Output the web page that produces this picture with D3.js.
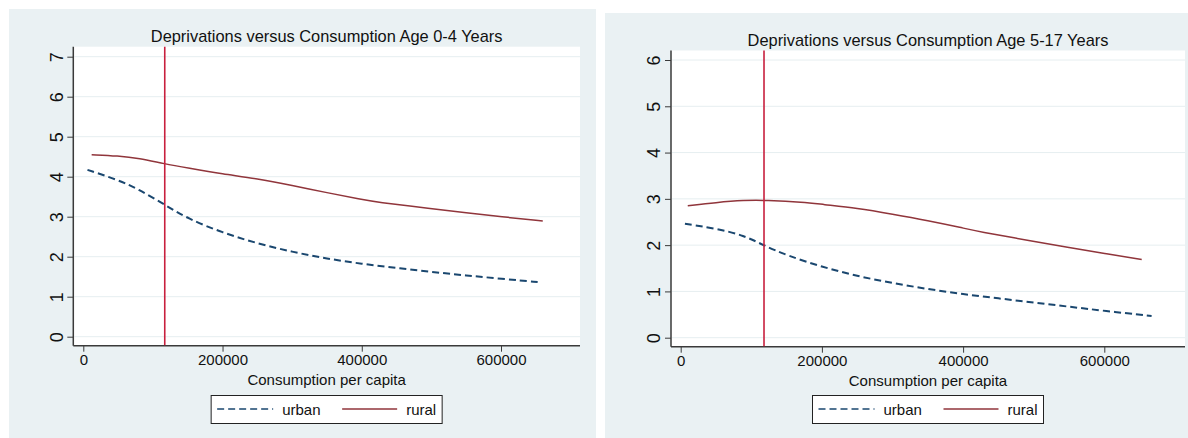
<!DOCTYPE html>
<html>
<head>
<meta charset="utf-8">
<script src="https://cdn.jsdelivr.net/npm/d3@7"></script>
<style>
  body { margin: 0; background: #fff; }
  svg { display: block; font-family: "Liberation Sans", Arial, sans-serif; }
</style>
</head>
<body>
<div id="chart"></div>
<script>
// Data
const titles = ["Deprivations versus Consumption Age 0-4 Years", "Deprivations versus Consumption Age 5-17 Years"];
const xTicks = [0, 200000, 400000, 600000];
const yTicksA = [0, 1, 2, 3, 4, 5, 6, 7];
const yTicksB = [0, 1, 2, 3, 4, 5, 6];
const cutoffA = 117000;
const cutoffB = 118000;

// age 0-4
const ruralA_x = [12000, 50000, 80000, 117000, 150000, 200000, 250000, 300000, 350000, 400000, 420000, 500000, 550000, 600000, 660000];
const ruralA_y = [4.55, 4.52, 4.46, 4.32, 4.22, 4.07, 3.95, 3.78, 3.60, 3.43, 3.37, 3.20, 3.10, 3.00, 2.89];
const urbanA_x = [6000, 50000, 80000, 117000, 150000, 200000, 250000, 300000, 350000, 400000, 450000, 500000, 550000, 600000, 656000];
const urbanA_y = [4.17, 3.92, 3.68, 3.30, 2.95, 2.60, 2.33, 2.12, 1.95, 1.82, 1.72, 1.62, 1.53, 1.45, 1.36];

// age 5-17
const ruralB_x = [10000, 50000, 90000, 120000, 175000, 200000, 250000, 300000, 350000, 400000, 420000, 500000, 550000, 600000, 653000];
const ruralB_y = [2.85, 2.92, 2.97, 2.97, 2.93, 2.88, 2.80, 2.67, 2.53, 2.37, 2.30, 2.08, 1.95, 1.82, 1.69];
const urbanB_x = [6000, 50000, 90000, 118000, 150000, 200000, 250000, 300000, 350000, 400000, 450000, 500000, 550000, 600000, 667000];
const urbanB_y = [2.46, 2.36, 2.21, 1.99, 1.78, 1.53, 1.33, 1.18, 1.05, 0.94, 0.85, 0.76, 0.67, 0.58, 0.47];

const W = 1188, H = 438;
const bg = "#eaf1f3", gridCol = "#e6eef0", axisCol = "#3a3a3a";
const ruralCol = "#90353b", urbanCol = "#1a476f", cutCol = "#c8203e";

const svg = d3.select("#chart").append("svg").attr("width", W).attr("height", H);
svg.append("rect").attr("width", W).attr("height", H).attr("fill", "#fff");

const zip = (xs, ys) => xs.map((x, i) => ({ x, y: ys[i] }));

const panels = [
  { bx: 9, by: 9, bw: 587, bh: 429, left: 73.3, right: 580, top: 46.7, bottom: 345.7,
    x0: 83.3, x6: 501, yMax: 7, yZero: 336.7, yTop: 56.7, yTicks: yTicksA, cutoff: cutoffA,
    title: titles[0], rural: zip(ruralA_x, ruralA_y), urban: zip(urbanA_x, urbanA_y) },
  { bx: 605, by: 13, bw: 583, bh: 425, left: 671, right: 1185, top: 50.5, bottom: 346.7,
    x0: 680.7, x6: 1104.3, yMax: 6, yZero: 337.7, yTop: 60, yTicks: yTicksB, cutoff: cutoffB,
    title: titles[1], rural: zip(ruralB_x, ruralB_y), urban: zip(urbanB_x, urbanB_y) }
];

panels.forEach(p => {
  const g = svg.append("g");
  g.append("rect").attr("x", p.bx).attr("y", p.by).attr("width", p.bw).attr("height", p.bh).attr("fill", bg);
  g.append("rect").attr("x", p.left).attr("y", p.top).attr("width", p.right - p.left).attr("height", p.bottom - p.top).attr("fill", "#fff");

  const x = d3.scaleLinear().domain([0, 600000]).range([p.x0, p.x6]);
  const y = d3.scaleLinear().domain([0, p.yMax]).range([p.yZero, p.yTop]);
  const cx = (p.left + p.right) / 2;

  // grid
  g.selectAll(".grid").data(p.yTicks).join("line")
    .attr("x1", p.left + 1).attr("x2", p.right)
    .attr("y1", d => y(d)).attr("y2", d => y(d))
    .attr("stroke", gridCol).attr("stroke-width", 1);

  // title
  g.append("text").attr("x", cx).attr("y", p.top - 5)
    .attr("text-anchor", "middle").style("font-size", "16.4px").attr("fill", "#111")
    .text(p.title);

  // y axis (labels rotated, as Stata draws them)
  const ya = g.append("g").attr("transform", `translate(${p.left},0)`)
    .call(d3.axisLeft(y).tickValues(p.yTicks).tickFormat(d3.format("d")).tickSize(6).tickSizeOuter(0));
  ya.select(".domain").remove();
  ya.selectAll(".tick line").attr("stroke", axisCol);
  ya.selectAll(".tick text")
    .attr("transform", "rotate(-90)")
    .attr("x", 0).attr("y", -17).attr("dy", "0.35em")
    .attr("text-anchor", "middle").attr("fill", "#111").style("font-size", "18px")
    .style("font-family", '"Liberation Sans", Arial, sans-serif');
  g.append("line").attr("x1", p.left).attr("x2", p.left).attr("y1", p.top).attr("y2", p.bottom)
    .attr("stroke", axisCol).attr("stroke-width", 1.5);

  // x axis
  const xa = g.append("g").attr("transform", `translate(0,${p.bottom})`)
    .call(d3.axisBottom(x).tickValues(xTicks).tickSize(6).tickPadding(3).tickFormat(d3.format("d")).tickSizeOuter(0));
  xa.select(".domain").remove();
  xa.selectAll(".tick line").attr("stroke", axisCol);
  xa.selectAll(".tick text").attr("fill", "#111").style("font-size", "15px")
    .style("font-family", '"Liberation Sans", Arial, sans-serif');
  g.append("line").attr("x1", p.left).attr("x2", p.right).attr("y1", p.bottom).attr("y2", p.bottom)
    .attr("stroke", axisCol).attr("stroke-width", 1.5);

  g.append("text").attr("x", cx).attr("y", p.bottom + 39)
    .attr("text-anchor", "middle").style("font-size", "15px").attr("fill", "#111")
    .text("Consumption per capita");

  // series
  const line = d3.line().x(d => x(d.x)).y(d => y(d.y)).curve(d3.curveBasis);
  g.append("path").datum(p.rural).attr("d", line)
    .attr("fill", "none").attr("stroke", ruralCol).attr("stroke-width", 1.5);
  g.append("path").datum(p.urban).attr("d", line)
    .attr("fill", "none").attr("stroke", urbanCol).attr("stroke-width", 2)
    .attr("stroke-dasharray", "7,4");

  // cutoff line
  g.append("line").attr("x1", x(p.cutoff)).attr("x2", x(p.cutoff))
    .attr("y1", p.top).attr("y2", p.bottom - 0.5)
    .attr("stroke", cutCol).attr("stroke-width", 1.6);

  // legend
  const lw = 231, lh = 28, lx = cx - lw / 2, ly = 395.5;
  const lg = g.append("g").attr("transform", `translate(${lx},${ly})`);
  lg.append("rect").attr("width", lw).attr("height", lh).attr("fill", "#fff")
    .attr("stroke", "#222").attr("stroke-width", 1);
  lg.append("line").attr("x1", 6).attr("x2", 62).attr("y1", 13.5).attr("y2", 13.5)
    .attr("stroke", urbanCol).attr("stroke-width", 1.6).attr("stroke-dasharray", "7,4");
  lg.append("text").attr("x", 71).attr("y", 19).style("font-size", "15px").attr("fill", "#111").text("urban");
  lg.append("line").attr("x1", 131).attr("x2", 186).attr("y1", 13.5).attr("y2", 13.5)
    .attr("stroke", ruralCol).attr("stroke-width", 1.6);
  lg.append("text").attr("x", 195).attr("y", 19).style("font-size", "15px").attr("fill", "#111").text("rural");
});
</script>
</body>
</html>
